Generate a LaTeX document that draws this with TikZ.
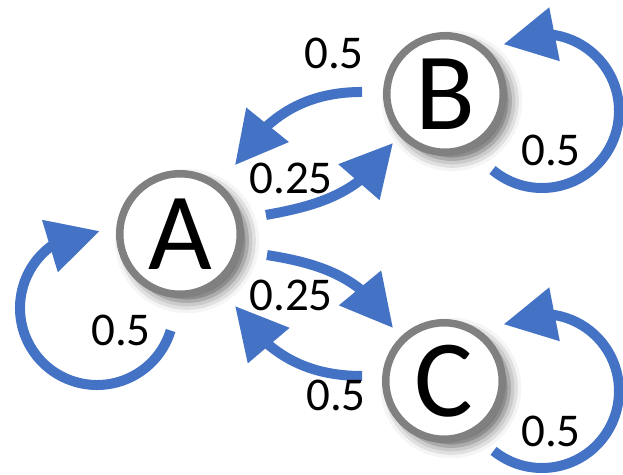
\documentclass[tikz,border=0pt]{standalone}
\usepackage{fontspec}
\setmainfont{Carlito}
\usepackage{tikz}
\usetikzlibrary{arrows.meta,bending,positioning,shadows.blur}

\definecolor{flowblue}{RGB}{68,114,196}

\begin{document}
\begin{tikzpicture}[x=1pt,y=1pt,>={Triangle[length=52pt,width=52pt,flex]},
  st/.style={circle,draw=black!50,line width=7.5pt,fill=white,inner sep=0pt,minimum size=116.5pt,
    font=\fontsize{110}{110}\selectfont,
    blur shadow={shadow xshift=7pt,shadow yshift=-7pt,shadow blur radius=12pt,shadow opacity=65}},
  fl/.style={->,draw=flowblue,line width=10pt},
  p/.style={inner sep=0pt,font=\fontsize{47}{47}\selectfont}]
\useasboundingbox (0,0) rectangle (623,474);
\clip (0,0) rectangle (623,474);
\node[st,minimum size=120.5pt] (A) at (180,240) {A};
\node[st,on grid,above right=140pt and 265pt of A] (B) {B};
\node[st,on grid,below right=147pt and 264pt of A] (C) {C};
% between the states
\draw[fl] ([shift={(178.6:83pt)}]B.center) to[out=180,in=58] ([shift={(51.4:88pt)}]A.center);
\draw[fl] ([shift={(12.5:88pt)}]A.center) to[out=10,in=238] ([shift={(223.3:71.4pt)}]B.center);
\draw[fl] ([shift={(-13.6:89.5pt)}]A.center) to[out=-9,in=120] ([shift={(133.9:73.5pt)}]C.center);
\draw[fl] ([shift={(176.5:82pt)}]C.center) to[out=180,in=-57] ([shift={(-52.6:90.6pt)}]A.center);
% self loops
\foreach \n/\dx/\dy/\a/\b in {A/-83/-74/-17/-272,B/97/-17/230/480,C/98/-10/231/480}
  \draw[fl] ([shift={(\dx,\dy)}]\n.center) ++(\a:77pt) arc[start angle=\a,end angle=\b,radius=77pt];
% probabilities
\node[p] (lBA) at (334,421) {0.5};
\node[p] (lAB) at (291,296) {0.25};
\node[p] (lAC) at (291,179) {0.25};
\node[p] (lCA) at (336,79) {0.5};
\node[p] (lAA) at (121,144) {0.5};
\node[p] (lBB) at (551,324) {0.5};
\node[p] (lCC) at (551,43) {0.5};
\end{tikzpicture}
\end{document}
